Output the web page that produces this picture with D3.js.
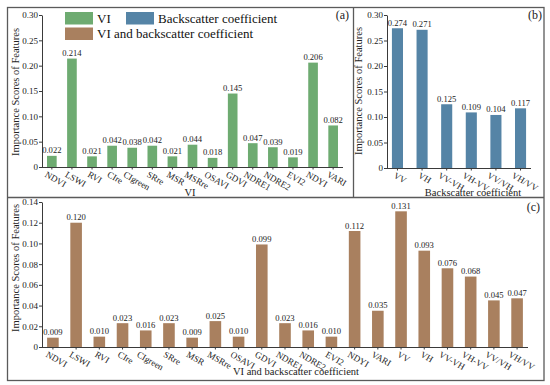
<!DOCTYPE html>
<html>
<head>
<meta charset="utf-8">
<script src="https://cdn.jsdelivr.net/npm/d3@7"></script>
<style>
  body { margin: 0; background: #fff; }
  svg { display: block; font-family: "Liberation Serif", "Times New Roman", serif; }
</style>
</head>
<body>
<svg id="chart" width="550" height="385"></svg>
<script>
// data

const viNames = ['NDVI', 'LSWI', 'RVI', 'CIre', 'CIgreen', 'SRre', 'MSR', 'MSRre', 'OSAVI',
                 'GDVI', 'NDRE1', 'NDRE2', 'EVI2', 'NDYI', 'VARI']
const viScores = [0.022, 0.214, 0.021, 0.042, 0.038, 0.042, 0.021, 0.044, 0.018,
                  0.145, 0.047, 0.039, 0.019, 0.206, 0.082]

const bsNames = ['VV', 'VH', 'VV-VH', 'VH-VV', 'VV/VH', 'VH/VV']
const bsScores = [0.274, 0.271, 0.125, 0.109, 0.104, 0.117]

const allNames = viNames.concat(bsNames)
const allScores = [0.009, 0.120, 0.010, 0.023, 0.016, 0.023, 0.009, 0.025, 0.010,
                   0.099, 0.023, 0.016, 0.010, 0.112, 0.035,
                   0.131, 0.093, 0.076, 0.068, 0.045, 0.047]

const ticksAB = [0, 0.05, 0.10, 0.15, 0.20, 0.25, 0.30]
const ticksC = [0, 0.02, 0.04, 0.06, 0.08, 0.10, 0.12, 0.14]

const COLORS = { vi: '#6eab71', bs: '#5584a6', both: '#a9805f' }
const AXIS = '#3a3a3a'
const FRAME = '#5a5a5a'

const svg = d3.select('#chart')

// frame and dividers

svg.append('rect')
  .attr('x', 7.5).attr('y', 7.5).attr('width', 536.5).attr('height', 373)
  .attr('fill', 'none').attr('stroke', FRAME).attr('stroke-width', 1.3)
svg.append('line')
  .attr('x1', 7.5).attr('x2', 544).attr('y1', 197.5).attr('y2', 197.5)
  .attr('stroke', FRAME).attr('stroke-width', 1.3)
svg.append('line')
  .attr('x1', 353.5).attr('x2', 353.5).attr('y1', 7.5).attr('y2', 197.5)
  .attr('stroke', FRAME).attr('stroke-width', 1.3)

// one bar panel

function panel(p) {
  const g = svg.append('g')

  const x = d3.scaleBand()
    .domain(p.names)
    .range([p.left, p.right])
    .paddingInner(p.padIn)
    .paddingOuter(p.padOut)

  const y = d3.scaleLinear()
    .domain([0, p.max])
    .range([p.bottom, p.top])

  // y axis
  const yAxis = d3.axisLeft(y)
    .tickValues(p.ticks)
    .tickFormat((d) => d === 0 ? '0' : d3.format('.2f')(d))
    .tickSize(3)
    .tickSizeOuter(0)
  const ya = g.append('g')
    .attr('transform', 'translate(' + p.left + ',0)')
    .call(yAxis)
  ya.select('.domain').attr('stroke', AXIS)
  ya.selectAll('.tick line').attr('stroke', AXIS)
  ya.selectAll('.tick text')
    .attr('font-family', 'Liberation Serif')
    .attr('font-size', 9).attr('fill', '#222').attr('x', -4)

  // bars
  g.append('g').selectAll('rect')
    .data(p.names)
    .join('rect')
      .attr('x', (d) => x(d))
      .attr('width', x.bandwidth())
      .attr('y', (d, i) => y(p.values[i]))
      .attr('height', (d, i) => p.bottom - y(p.values[i]))
      .attr('fill', p.color)

  // value labels
  g.append('g').selectAll('text')
    .data(p.names)
    .join('text')
      .attr('x', (d) => x(d) + x.bandwidth() / 2)
      .attr('y', (d, i) => y(p.values[i]) - 2.5)
      .attr('text-anchor', 'middle')
      .attr('font-size', 8.6).attr('fill', '#222')
      .text((d, i) => d3.format('.3f')(p.values[i]))

  // x baseline and ticks
  g.append('line')
    .attr('x1', p.left).attr('x2', p.right)
    .attr('y1', p.bottom + 0.5).attr('y2', p.bottom + 0.5)
    .attr('stroke', AXIS)
  g.append('g').selectAll('line')
    .data(p.names)
    .join('line')
      .attr('x1', (d) => x(d) + x.bandwidth() / 2)
      .attr('x2', (d) => x(d) + x.bandwidth() / 2)
      .attr('y1', p.bottom).attr('y2', p.bottom + 2.5)
      .attr('stroke', AXIS)

  // rotated category labels, bbox top just under the axis
  const th = 30 * Math.PI / 180
  g.append('g').selectAll('text')
    .data(p.names)
    .join('text')
      .attr('text-anchor', 'middle')
      .attr('dominant-baseline', 'central')
      .attr('font-size', 9).attr('fill', '#222')
      .text((d) => d)
      .each(function(d) {
        const w = this.getComputedTextLength()
        const hgt = 7
        const bh = w * Math.sin(th) + hgt * Math.cos(th)
        const cx = x(d) + x.bandwidth() / 2 + 1 + w * 0.12
        const cy = p.bottom + 3.5 + bh / 2
        d3.select(this).attr('transform', 'translate(' + cx + ',' + cy + ') rotate(30)')
      })

  // titles
  g.append('text')
    .attr('transform', 'translate(' + p.ytitleX + ',' + p.ytitleY + ') rotate(-90)')
    .attr('text-anchor', 'middle')
    .attr('font-size', 10.5).attr('fill', '#222')
    .text('Importance Scores of Features')
  g.append('text')
    .attr('x', p.xtitleX).attr('y', p.xtitleY)
    .attr('text-anchor', 'middle')
    .attr('font-size', 10.5).attr('fill', '#222')
    .text(p.xtitle)
  g.append('text')
    .attr('x', p.tagX).attr('y', p.tagY)
    .attr('text-anchor', 'end')
    .attr('font-size', 12).attr('fill', '#222')
    .text(p.tag)
}

panel({
  names: viNames, values: viScores, color: COLORS.vi,
  left: 42, right: 343, top: 15, bottom: 167, padIn: 0.52, padOut: 0.25,
  max: 0.30, ticks: ticksAB,
  ytitleX: 19, ytitleY: 92, xtitle: 'VI', xtitleX: 190, xtitleY: 196,
  tag: '(a)', tagX: 349, tagY: 19
})

panel({
  names: bsNames, values: bsScores, color: COLORS.bs,
  left: 387, right: 531, top: 15, bottom: 168, padIn: 0.55, padOut: 0.2,
  max: 0.30, ticks: ticksAB,
  ytitleX: 362, ytitleY: 91, xtitle: 'Backscatter coefficient', xtitleX: 473, xtitleY: 195.5,
  tag: '(b)', tagX: 542, tagY: 19
})

panel({
  names: allNames, values: allScores, color: COLORS.both,
  left: 42, right: 528, top: 202, bottom: 347, padIn: 0.5, padOut: 0.22,
  max: 0.14, ticks: ticksC,
  ytitleX: 19, ytitleY: 268, xtitle: 'VI and backscatter coefficient', xtitleX: 296, xtitleY: 375,
  tag: '(c)', tagX: 540, tagY: 211
})

// legend

const legend = [
  { label: 'VI', color: COLORS.vi, x: 65, y: 12 },
  { label: 'Backscatter coefficient', color: COLORS.bs, x: 126, y: 12 },
  { label: 'VI and backscatter coefficient', color: COLORS.both, x: 65, y: 27.5 }
]
const lg = svg.append('g').selectAll('g')
  .data(legend)
  .join('g')
    .attr('transform', (d) => 'translate(' + d.x + ',' + d.y + ')')
lg.append('rect')
  .attr('width', 28).attr('height', 12.5)
  .attr('fill', (d) => d.color)
lg.append('text')
  .attr('x', 32).attr('y', 10.5)
  .attr('font-size', 13).attr('fill', '#111')
  .text((d) => d.label)
</script>
</body>
</html>
